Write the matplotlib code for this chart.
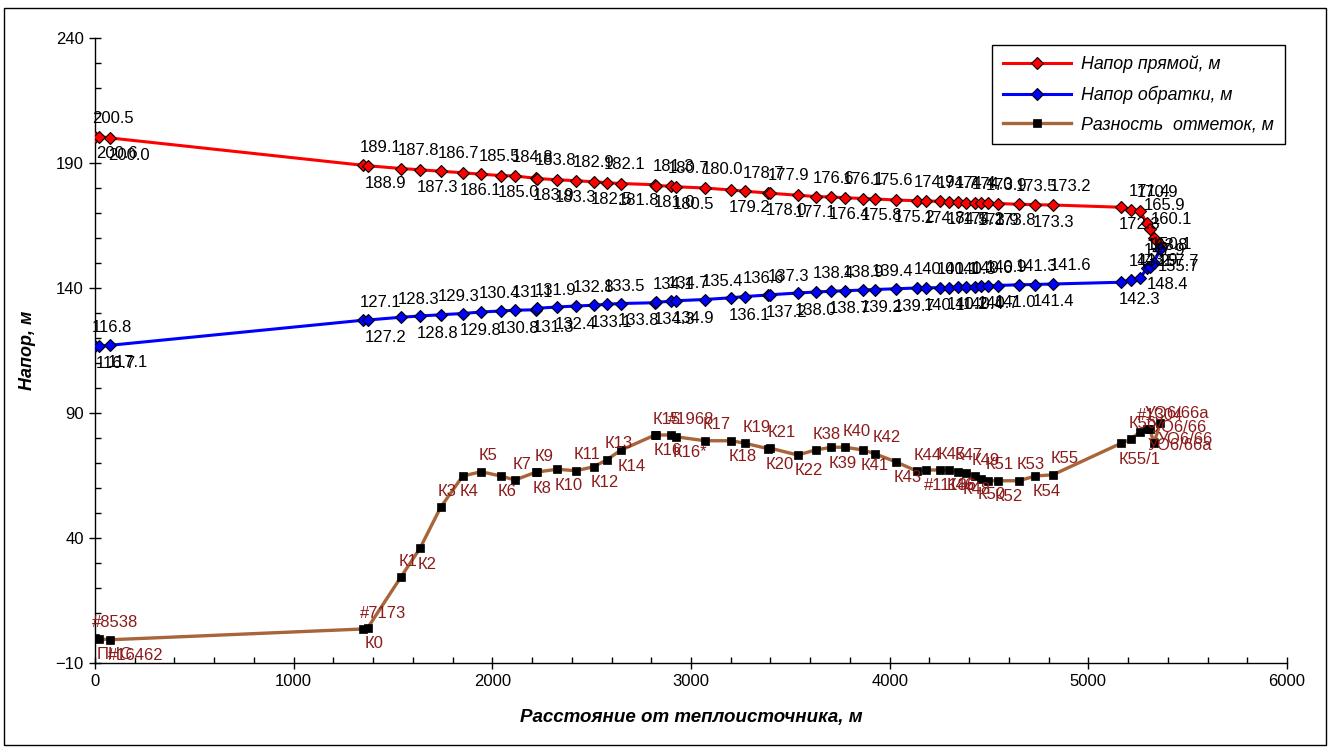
import matplotlib
matplotlib.use('Agg')
import matplotlib.pyplot as plt
from matplotlib.ticker import MultipleLocator
from matplotlib.patches import Rectangle

plt.rcParams['font.family'] = ['Liberation Sans', 'DejaVu Sans']

# ---- data ----
distance = [0, 20, 78, 1347, 1373, 1540, 1636, 1740, 1851, 1944, 2042, 2114, 2218, 2225,
            2327, 2421, 2510, 2577, 2646, 2819, 2826, 2899, 2924, 3070, 3203, 3272, 3389,
            3400, 3537, 3627, 3706, 3776, 3866, 3926, 4033, 4136, 4185, 4253, 4299, 4342,
            4383, 4429, 4458, 4496, 4543, 4651, 4733, 4822, 5165, 5215, 5260, 5295, 5310,
            5330, 5362]

names = ['#8538', 'ПНС', '#16462', '#7173', 'К0', 'К1', 'К2', 'К3', 'К4', 'К5', 'К6', 'К7',
         'К8', 'К9', 'К10', 'К11', 'К12', 'К13', 'К14', 'К15', 'К16', '#1968', 'К16*', 'К17',
         'К18', 'К19', 'К20', 'К21', 'К22', 'К38', 'К39', 'К40', 'К41', 'К42', 'К43', 'К44',
         '#11186', 'К45', 'К46', 'К47', 'К48', 'К49', 'К50', 'К51', 'К52', 'К53', 'К54', 'К55',
         'К55/1', 'К56', '#1304', 'УО6/66а', 'УО6/66а', 'УО6/66', 'УО6/66']

head_supply = [200.5, 200.6, 200.0, 189.1, 188.9, 187.8, 187.3, 186.7, 186.1, 185.5, 185.0,
               184.8, 183.9, 183.8, 183.3, 182.9, 182.5, 182.1, 181.8, 181.3, 181.0, 180.7,
               180.5, 180.0, 179.2, 178.7, 178.0, 177.9, 177.1, 176.6, 176.4, 176.1, 175.8,
               175.6, 175.2, 174.9, 174.8, 174.7, 174.5, 174.4, 174.2, 174.0, 173.9, 173.9,
               173.8, 173.5, 173.3, 173.2, 172.3, 171.4, 170.9, 165.9, 163.8, 160.1, 157.7]

head_return = [116.8, 116.7, 117.1, 127.1, 127.2, 128.3, 128.8, 129.3, 129.8, 130.4, 130.8,
               131.1, 131.3, 131.9, 132.4, 132.8, 133.1, 133.5, 133.8, 134.1, 134.3, 134.7,
               134.9, 135.4, 136.1, 136.6, 137.2, 137.3, 138.0, 138.4, 138.7, 138.9, 139.2,
               139.4, 139.7, 140.0, 140.1, 140.1, 140.2, 140.3, 140.4, 140.6, 140.7, 140.9,
               141.0, 141.3, 141.4, 141.6, 142.3, 143.2, 143.9, 147.9, 148.4, 150.1, 155.7]

elev_diff = [0.0, -0.4, -0.7, 3.6, 4.1, 24.4, 35.9, 52.3, 64.8, 66.5, 64.8, 63.2, 66.3, 66.4,
             67.5, 66.9, 68.5, 71.3, 75.1, 81.2, 81.2, 81.2, 80.5, 78.9, 78.9, 77.9, 75.7,
             75.9, 73.2, 75.2, 76.3, 76.3, 75.2, 73.7, 70.4, 66.8, 67.2, 67.2, 67.2, 66.5,
             65.9, 64.8, 63.7, 62.9, 62.9, 62.9, 64.8, 65.3, 77.9, 79.5, 82.5, 83.5, 83.5,
             77.9, 85.9]

x_ticks = [0, 1000, 2000, 3000, 4000, 5000, 6000]
y_ticks = [-10, 40, 90, 140, 190, 240]

# ---- figure ----
W, H = 1330, 749
fig = plt.figure(figsize=(W / 100, H / 100), dpi=100)
fig.patch.set_facecolor('white')
fig.add_artist(Rectangle((4 / W, 4 / H), 1 - 8 / W, 1 - 12 / H, transform=fig.transFigure,
                         fill=False, edgecolor='black', linewidth=1.0))

ax = fig.add_axes([95 / W, 1 - 663 / H, (1287 - 95) / W, (663 - 38) / H])

ax.plot(distance, head_supply, color='#FF0000', lw=2.2, marker='D', ms=6.5,
        mfc='#FF0000', mec='black', mew=0.8, label='Напор прямой, м', zorder=3)
ax.plot(distance, head_return, color='#0000FF', lw=2.2, marker='D', ms=6.5,
        mfc='#0000FF', mec='black', mew=0.8, label='Напор обратки, м', zorder=3)
ax.plot(distance, elev_diff, color='#A8653A', lw=2.4, marker='s', ms=6,
        mfc='black', mec='black', mew=0.5, label='Разность  отметок, м', zorder=3)


def above(i):
    return i == 0 or (i >= 3 and i % 2 == 1) or i == 50


LBL = 12
for i, x in enumerate(distance):
    up = above(i)
    dy = 13 if up else -12.5
    ax.annotate(f"{head_supply[i]:.1f}", (x, head_supply[i]), xytext=(-2, dy),
                textcoords='offset points', ha='left', va='center', fontsize=LBL,
                color='black', zorder=4)
    ax.annotate(f"{head_return[i]:.1f}", (x, head_return[i]), xytext=(-2, dy),
                textcoords='offset points', ha='left', va='center', fontsize=LBL,
                color='black', zorder=4)
    ax.annotate(names[i], (x, elev_diff[i]), xytext=(-2, 11.5 if up else -11.5),
                textcoords='offset points', ha='left', va='center', fontsize=LBL,
                color='#8B1A1A', zorder=4)

ax.set_xlim(0, 6000)
ax.set_ylim(-10, 240)
ax.set_xticks(x_ticks)
ax.set_yticks(y_ticks)
ax.xaxis.set_minor_locator(MultipleLocator(200))
ax.yaxis.set_minor_locator(MultipleLocator(10))
ax.tick_params(which='major', direction='inout', length=8, width=1, labelsize=12, pad=4)
ax.tick_params(which='minor', direction='in', length=4, width=1)
for s in ['top', 'right']:
    ax.spines[s].set_visible(False)
for s in ['left', 'bottom']:
    ax.spines[s].set_linewidth(1)

ax.set_xlabel('Расстояние от теплоисточника, м', fontsize=13.5, fontweight='bold',
              fontstyle='italic', labelpad=14)
ax.set_ylabel('Напор, м', fontsize=13, fontweight='bold', fontstyle='italic', labelpad=14)

leg = ax.legend(loc='upper right', bbox_to_anchor=(0.998, 0.989), borderaxespad=0,
                fancybox=False, framealpha=1, edgecolor='black',
                prop={'style': 'italic', 'size': 12.8}, handlelength=3.8,
                labelspacing=0.7, borderpad=0.6, handletextpad=0.6)
leg.get_frame().set_linewidth(1)

fig.savefig('out.png', dpi=100)
